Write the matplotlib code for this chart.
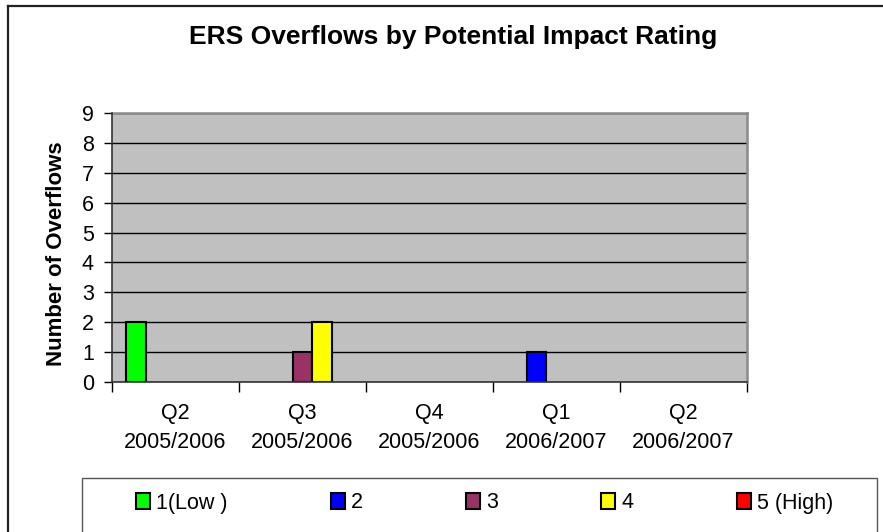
import matplotlib
matplotlib.use('Agg')
import matplotlib.pyplot as plt
import numpy as np
from matplotlib.patches import Rectangle
from matplotlib.lines import Line2D

plt.rcParams['font.family'] = ['Liberation Sans', 'DejaVu Sans']

# data
quarters = ['Q2\n2005/2006', 'Q3\n2005/2006', 'Q4\n2005/2006', 'Q1\n2006/2007', 'Q2\n2006/2007']
ratings = ['1(Low )', '2', '3', '4', '5 (High)']
colors = ['#00FF00', '#0000FF', '#993366', '#FFFF00', '#FF0000']
low_1 = [2, 0, 0, 0, 0]
r_2 = [0, 0, 0, 1, 0]
r_3 = [0, 1, 0, 0, 0]
r_4 = [0, 2, 0, 0, 0]
high_5 = [0, 0, 0, 0, 0]
series = [low_1, r_2, r_3, r_4, high_5]

W, H = 883, 532
fs = 15.5
fig = plt.figure(figsize=(W / 100, H / 100), dpi=100)

ax = fig.add_axes([112 / W, 1 - 381.7 / H, (746.5 - 112) / W, (381.7 - 113.3) / H])
ax.set_facecolor('#C0C0C0')

x = np.arange(len(quarters))
w = 0.155
handles = []
for i, (vals, c) in enumerate(zip(series, colors)):
    # no outline on empty bars so they don't thicken the axis line
    lws = [1.5 if v else 0 for v in vals]
    b = ax.bar(x + (i - 2) * w, vals, w, color=c, edgecolor='black', linewidth=lws, zorder=3)
    handles.append(Rectangle((0, 0), 1, 1, facecolor=c, edgecolor='black', linewidth=1.5))

ax.set_xlim(-0.5, len(quarters) - 0.5)
ax.set_ylim(0, 9)
ax.set_yticks(range(10))
ax.yaxis.grid(True, color='black', linewidth=1, zorder=1)
ax.set_axisbelow(True)
ax.tick_params(axis='y', direction='out', length=6, width=1, labelsize=fs, pad=7)

ax.set_xticks(np.arange(-0.5, len(quarters), 1))
ax.set_xticklabels([])
ax.set_xticks(x, minor=True)
ax.set_xticklabels(quarters, minor=True, fontsize=fs, linespacing=1.5)
ax.tick_params(axis='x', which='major', direction='out', length=7, width=1)
ax.tick_params(axis='x', which='minor', length=0, pad=15)

for s in ['left', 'bottom']:
    ax.spines[s].set_color('#333333')
    ax.spines[s].set_linewidth(1.2)
    ax.spines[s].set_zorder(4)
for s in ['top', 'right']:
    ax.spines[s].set_color('#8a8a8a')
    ax.spines[s].set_linewidth(1.8)

fig.text(453 / W, 1 - 37 / H, 'ERS Overflows by Potential Impact Rating',
         ha='center', va='center', fontsize=19, fontweight='bold')
fig.text(57 / W, 1 - 254 / H, 'Number of Overflows', rotation=90,
         ha='center', va='center', fontsize=16, fontweight='bold')

# outer chart frame
fig.add_artist(Line2D([8 / W, 1], [1 - 6 / H, 1 - 6 / H], color='#222222', linewidth=1.6))
fig.add_artist(Line2D([8 / W, 8 / W], [0, 1 - 6 / H], color='#222222', linewidth=1.6))

# legend box
fig.add_artist(Rectangle((82 / W, -0.05), (877 - 82) / W, 0.05 + 1 - 478 / H,
                         transform=fig.transFigure, facecolor='none',
                         edgecolor='#555555', linewidth=1))
fig.legend(handles, ratings, loc='center left', bbox_to_anchor=(136 / W, 1 - 503 / H),
           ncol=5, frameon=False, fontsize=fs, handlelength=0.65, handleheight=0.7,
           handletextpad=0.3, columnspacing=4.78, borderpad=0, borderaxespad=0)

fig.savefig('out.png', dpi=100)
